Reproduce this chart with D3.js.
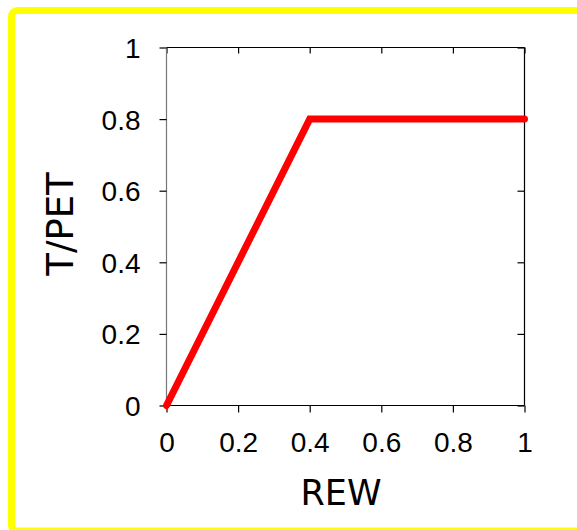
<!DOCTYPE html>
<html>
<head>
<meta charset="utf-8">
<script src="https://cdn.jsdelivr.net/npm/d3@7/dist/d3.min.js"></script>
<style>
  html, body { margin: 0; padding: 0; background: #fff; }
  svg { display: block; }
  .tick text { font-family: "Liberation Sans", Arial, sans-serif; }
</style>
</head>
<body>
<script>
// Transpiration ratio T/PET as a function of relative extractable water
const rewValues = [0, 0.4, 1];
const tPetValues = [0, 0.8, 0.8];
const xTicks = [0, 0.2, 0.4, 0.6, 0.8, 1];
const yTicks = [0, 0.2, 0.4, 0.6, 0.8, 1];
const xTitle = "REW";
const yTitle = "T/PET";

const W = 577, H = 530;
const plot = { left: 166.5, right: 524.5, top: 47.5, bottom: 405.5 };

const svg = d3.select("body").append("svg")
  .attr("width", W).attr("height", H);

// yellow frame
svg.append("rect")
  .attr("x", 11.5).attr("y", 10.5)
  .attr("width", 620).attr("height", 520.5)
  .attr("rx", 6)
  .attr("fill", "none")
  .attr("stroke", "#ffff00")
  .attr("stroke-width", 7);

const x = d3.scaleLinear().domain([0, 1]).range([plot.left, plot.right]);
const y = d3.scaleLinear().domain([0, 1]).range([plot.bottom, plot.top]);

const fmt = d => d === 0 ? "0" : d === 1 ? "1" : d3.format(".1f")(d);

// bottom axis, ticks outward
const gx = svg.append("g")
  .attr("transform", `translate(0,${plot.bottom})`)
  .call(d3.axisBottom(x).tickValues(xTicks).tickFormat(fmt).tickSize(7).tickPadding(20));
// top axis, ticks inward
const gxt = svg.append("g")
  .attr("transform", `translate(0,${plot.top})`)
  .call(d3.axisBottom(x).tickValues(xTicks).tickFormat("").tickSize(6));
// left axis, ticks outward
const gy = svg.append("g")
  .attr("transform", `translate(${plot.left},0)`)
  .call(d3.axisLeft(y).tickValues(yTicks).tickFormat(fmt).tickSize(7).tickPadding(19));
// right axis, ticks inward
const gyr = svg.append("g")
  .attr("transform", `translate(${plot.right},0)`)
  .call(d3.axisLeft(y).tickValues(yTicks).tickFormat("").tickSize(7));

[gx, gxt, gy, gyr].forEach(g => {
  g.select(".domain").attr("stroke", "#000").attr("stroke-width", 1.2);
  g.selectAll(".tick line").attr("stroke", "#000").attr("stroke-width", 1.2);
  g.selectAll(".tick text").attr("font-size", 28).attr("fill", "#000");
});
gx.select(".domain").attr("d", `M${plot.left},0H${plot.right}`);
gxt.select(".domain").attr("d", `M${plot.left},0H${plot.right}`);
gy.select(".domain").attr("d", `M0,${plot.bottom}V${plot.top}`).attr("stroke", "#777");
gyr.select(".domain").attr("d", `M0,${plot.bottom}V${plot.top}`);
gy.selectAll(".tick text").attr("dy", "0.36em");

// data line
const line = d3.line().x((d, i) => x(rewValues[i])).y(d => y(d));
svg.append("path")
  .datum(tPetValues)
  .attr("d", line)
  .attr("fill", "none")
  .attr("stroke", "#ff0000")
  .attr("stroke-width", 7)
  .attr("stroke-linejoin", "miter")
  .attr("stroke-linecap", "round");

// axis titles
svg.append("text")
  .attr("x", 341).attr("y", 505)
  .attr("text-anchor", "middle")
  .attr("font-family", "'Comic Sans MS', 'DejaVu Sans', sans-serif")
  .attr("font-size", 35)
  .text(xTitle);
svg.append("text")
  .attr("transform", "translate(73,224) rotate(-90)")
  .attr("text-anchor", "middle")
  .attr("font-family", "'Comic Sans MS', 'DejaVu Sans', sans-serif")
  .attr("font-size", 37)
  .text(yTitle);
</script>
</body>
</html>
